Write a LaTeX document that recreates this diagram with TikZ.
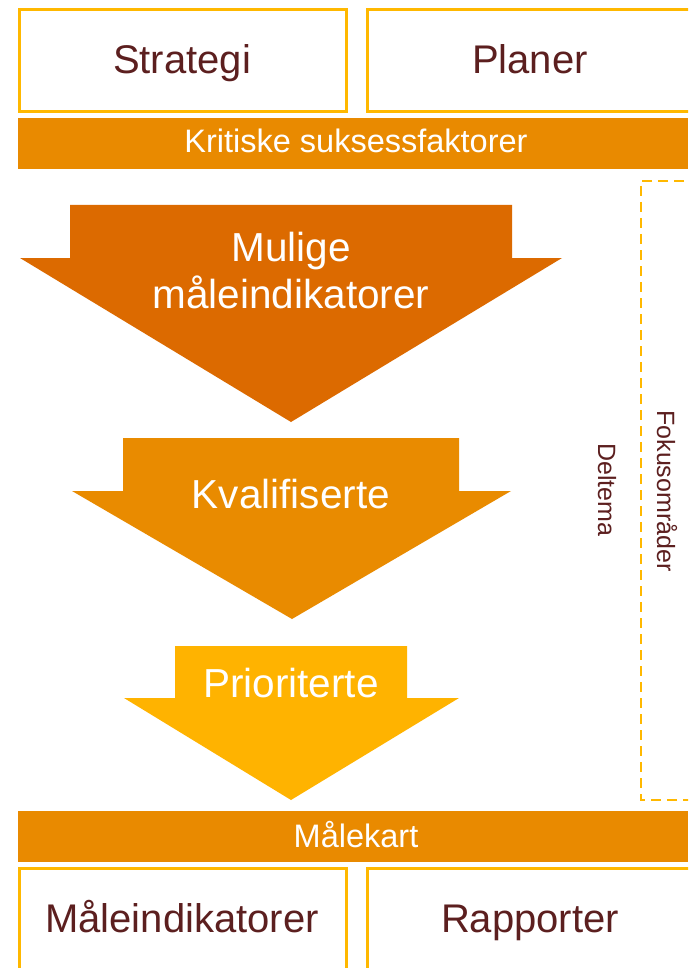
\documentclass[tikz,border=0pt]{standalone}
\usepackage{fontspec}
\setmainfont{Liberation Sans}
\definecolor{boxline}{HTML}{FFB800}
\definecolor{barfill}{HTML}{E98A00}
\definecolor{arrowA}{HTML}{DC6A00}
\definecolor{arrowB}{HTML}{E98B00}
\definecolor{arrowC}{HTML}{FFB300}
\definecolor{txt}{HTML}{5C1F1F}
\tikzset{
  framebox/.style={draw=boxline, line width=3pt, fill=white},
  bar/.style={fill=barfill},
  boxlabel/.style={text=txt, font=\fontsize{40}{46}\selectfont, inner sep=0pt, anchor=base},
  barlabel/.style={text=white, font=\fontsize{32.5}{38}\selectfont, inner sep=0pt, anchor=base},
  arrowlabel/.style={text=white, font=\fontsize{40.5}{44}\selectfont, inner sep=0pt, anchor=base, align=center},
  sidelabel/.style={text=txt, font=\fontsize{25}{30}\selectfont, inner sep=0pt, rotate=-90},
}
\begin{document}
\begin{tikzpicture}[x=1pt,y=-1pt]
\useasboundingbox (0,0) rectangle (688,968);
\clip (0,0) rectangle (688,968);
\fill[white] (0,0) rectangle (688,968);

% top boxes and bar
\draw[framebox] (19.5,9.5) rectangle (346.5,111.5);
\draw[framebox] (367.5,9.5) rectangle (700,111.5);
\node[boxlabel] (strategi) at (182,74) {Strategi};
\node[boxlabel] (planer) at (530,74) {Planer};
\fill[bar] (18,118) rectangle (688,169);
\node[barlabel] (ksf) at (356,153) {Kritiske suksessfaktorer};

% focus area frame
\draw[boxline, line width=2pt, dash pattern=on 10pt off 6pt] (700,181) -- (641,181) -- (641,800) -- (700,800);
\node[sidelabel] (fokus) at (667,491) {Fokusområder};
\node[sidelabel] (deltema) at (607,490) {Deltema};

% funnel of arrows
\fill[arrowA] (70,205) -- (512,205) -- (512,258) -- (562,258) -- (291,422) -- (20,258) -- (70,258) -- cycle;
\node[arrowlabel] (mulige) at (291,261) {Mulige};
\node[arrowlabel] (maleind) at (291,308) {måleindikatorer};
\fill[arrowB] (123,438) -- (459,438) -- (459,491) -- (511,491) -- (292,619) -- (72,491) -- (123,491) -- cycle;
\node[arrowlabel] (kval) at (291,508) {Kvalifiserte};
\fill[arrowC] (175,646) -- (407,646) -- (407,698) -- (459,698) -- (291,800) -- (124,698) -- (175,698) -- cycle;
\node[arrowlabel] (prio) at (291,697) {Prioriterte};

% bottom bar and boxes
\fill[bar] (18,811) rectangle (688,862);
\node[barlabel] (malekart) at (356,847) {Målekart};
\draw[framebox] (19.5,868.5) rectangle (346.5,980);
\draw[framebox] (367.5,868.5) rectangle (700,980);
\node[boxlabel] (mi) at (182,932) {Måleindikatorer};
\node[boxlabel] (rapp) at (530,932) {Rapporter};
\end{tikzpicture}
\end{document}
